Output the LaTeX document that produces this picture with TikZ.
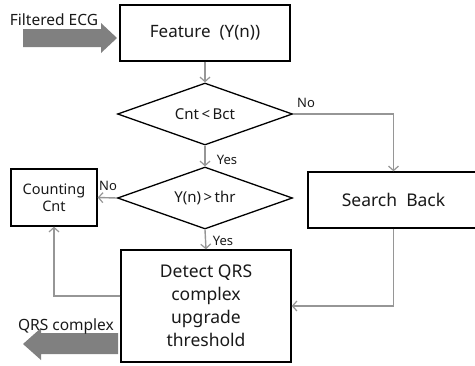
\documentclass[tikz,border=0pt]{standalone}
\usepackage{fontspec}
\setmainfont{Noto Sans}
\usetikzlibrary{shapes.geometric,arrows.meta}

\definecolor{linegray}{RGB}{150,150,150}
\definecolor{bulkgray}{RGB}{128,128,128}
\definecolor{ink}{RGB}{25,25,25}

\tikzset{
  procbox/.style={draw=black, line width=1.3pt, fill=white, align=center,
    text=ink, inner sep=0pt},
  decision/.style={draw=black, line width=1.3pt, fill=white, diamond,
    aspect=2.8, inner sep=0pt, minimum width=175pt, minimum height=62pt,
    text=ink, font=\fontsize{15}{18}\selectfont},
  flow/.style={draw=linegray, line width=1.4pt,
    -{Straight Barb[length=4.5pt,width=10pt,line width=1.2pt]}},
  tag/.style={text=ink, inner sep=0pt, font=\fontsize{13}{15}\selectfont},
  sidelabel/.style={text=ink, inner sep=0pt, font=\fontsize{15.5}{18}\selectfont},
  bulkarrow/.style={fill=bulkgray, draw=none}
}

\begin{document}
\begin{tikzpicture}[x=1pt,y=-1pt]
  \useasboundingbox (0,0) rectangle (475,365);

  % processing blocks
  \node[procbox, minimum width=170pt, minimum height=56pt,
        font=\fontsize{17}{20}\selectfont] (feat) at (205,33) {Feature\ \ (Y(n))};
  \node[decision] (cmp1) at (205,114) {Cnt\,<\,Bct};
  \node[decision] (cmp2) at (205,198) {Y(n)\,>\,thr};
  \node[procbox, minimum width=86pt, minimum height=57pt,
        font=\fontsize{14.5}{16.5}\selectfont] (count) at (54,197.5) {Counting\\Cnt};
  \node[procbox, minimum width=171pt, minimum height=56pt,
        font=\fontsize{17.5}{20}\selectfont] (search) at (393.5,200) {Search\ \ Back};
  \node[procbox, minimum width=170pt, minimum height=112pt,
        font=\fontsize{17.5}{23}\selectfont] (detect) at (206,306)
        {Detect QRS\\complex\\upgrade\\threshold};

  % connectors
  \draw[flow] (feat.south) -- (cmp1.north);
  \draw[flow] (cmp1.east) -| (search.north);
  \draw[flow] (cmp1.south) -- (cmp2.north);
  \draw[flow] (cmp2.west) -- (count.east);
  \draw[flow] (cmp2.south) -- (detect.north);
  \draw[flow] (search.south) |- (detect.east);
  \draw[flow] ([yshift=10pt]detect.west) -| (count.south);

  % branch labels
  \node[tag] (no1) at (306,103) {No};
  \node[tag] (yes1) at (227,160) {Yes};
  \node[tag] (no2) at (108,186) {No};
  \node[tag] (yes2) at (223,241) {Yes};

  % input and output arrows
  \coordinate (inTip) at (117,38);
  \coordinate (outTip) at (23,344);
  \fill[bulkarrow] (23,29) -- (101,29) -- (101,23) -- (inTip) -- (101,53)
    -- (101,47) -- (23,47) -- cycle;
  \fill[bulkarrow] (118,333) -- (41,333) -- (41,328) -- (outTip) -- (41,360)
    -- (41,354) -- (118,354) -- cycle;
  \node[sidelabel] (inlabel) at (54,20) {Filtered ECG};
  \node[sidelabel] (outlabel) at (66,326) {QRS complex};
\end{tikzpicture}
\end{document}
